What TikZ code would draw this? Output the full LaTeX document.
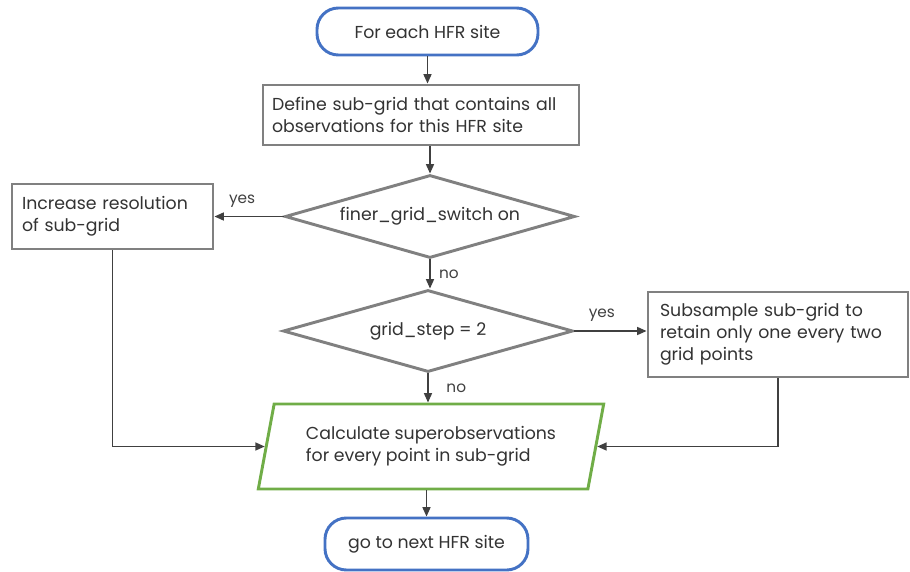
\documentclass[tikz,border=0pt]{standalone}
\usepackage{fontspec}
\setmainfont{Poppins}
\usetikzlibrary{shapes.geometric, arrows.meta, positioning}

\definecolor{boxgray}{RGB}{128,128,128}
\definecolor{linegray}{RGB}{64,64,64}
\definecolor{termblue}{RGB}{68,114,196}
\definecolor{iogreen}{RGB}{112,173,71}

\tikzset{
  terminal/.style={draw=termblue, line width=2.2pt, rounded corners=16pt, fill=white},
  process/.style={draw=boxgray, line width=2.2pt, rectangle, align=left, fill=white},
  decision/.style={draw=boxgray, line width=2.2pt, diamond, aspect=3.5, inner sep=0pt, fill=white},
  inout/.style={draw=iogreen, line width=2.2pt, trapezium, trapezium left angle=75,
    trapezium right angle=105, trapezium stretches=true, align=left, fill=white},
  flow/.style={draw=linegray, line width=1pt, -{Triangle[length=7pt,width=6pt]}},
  answer/.style={font=\fontsize{11.5}{13}\selectfont, text=linegray}
}

\begin{document}
\begin{tikzpicture}[x=0.75pt,y=0.75pt,yscale=-1,xscale=1,
  every node/.style={font=\fontsize{13}{16.5}\selectfont, text=black!80}]
\useasboundingbox (0,0) rectangle (910,571);

%Start
\node[terminal, minimum width=165.75pt, minimum height=35.25pt] (start) at (427.5,31.5) {For each HFR site};
%Define sub-grid
\node[process, inner xsep=6.75pt, text width=223.5pt, minimum height=45pt] (define) at (421,115)
  {Define sub-grid that contains all\\observations for this HFR site};
%Decision: finer grid
\node[decision, minimum width=217.5pt, minimum height=62.25pt] (finer) at (430,216.5) {finer\_grid\_switch on};
%Increase resolution
\node[process, inner xsep=7.5pt, text width=135.75pt, minimum height=48.75pt] (increase) at (112.5,216.5)
  {Increase resolution\\of sub-grid};
%Decision: grid step
\node[decision, minimum width=217.5pt, minimum height=61.5pt] (gridstep) at (428,331) {grid\_step = 2};
%Subsample
\node[process, inner xsep=9pt, text width=177pt, minimum height=63.75pt] (subsample) at (778,334.5)
  {Subsample sub-grid to\\retain only one every two\\grid points};
%Calculate superobservations
\node[inout, minimum width=259.5pt, minimum height=63.75pt] (calc) at (431,446.5)
  {Calculate superobservations\\for every point in sub-grid};
%End
\node[terminal, minimum width=152.25pt, minimum height=39pt] (next) at (426.5,544) {go to next HFR site};

%Connectors
\draw[flow] (start.south) -- (start.south |- define.north);
\draw[flow] (finer.north |- define.south) -- (finer.north);
\draw[flow] (finer.west) -- node[answer, pos=.6, above=3pt] (yes1) {yes} (increase.east);
\draw[flow] (finer.south) -- node[answer, right=3pt] (no1) {no} (finer.south |- gridstep.north);
\draw[flow] (gridstep.east) -- node[answer, pos=.38, above=3pt] (yes2) {yes} (gridstep.east -| subsample.west);
\draw[flow] (gridstep.south) -- node[answer, right=10pt] (no2) {no} (gridstep.south |- calc.north);
\draw[flow] (increase.south) |- (calc.west);
\draw[flow] (subsample.south) |- (calc.east);
\draw[flow] (calc.south -| next.north) -- (next.north);

\end{tikzpicture}
\end{document}
